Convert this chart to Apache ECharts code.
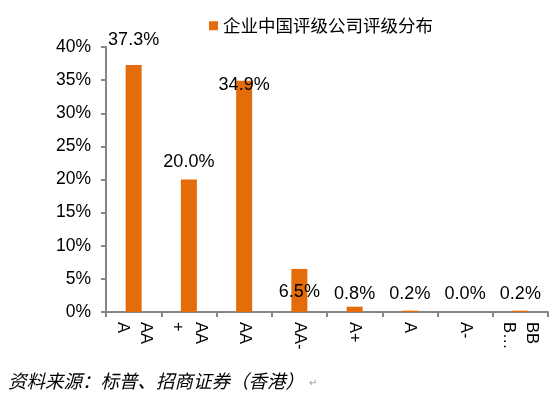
<!DOCTYPE html>
<html>
<head>
<meta charset="utf-8">
<script src="https://cdn.jsdelivr.net/npm/echarts@6/dist/echarts.min.js"></script>
<style>
	html, body { margin: 0; padding: 0; background: #fff; }
	#chart { width: 556px; height: 397px; }
</style>
</head>
<body>
<div id="chart"></div>
<script>
// rating categories and their share of rated Chinese companies (%)
var ratings = ['AAA', 'AA+', 'AA', 'AA-', 'A+', 'A', 'A-', 'BBB…'];
var tickLabels = ['AA\nA', 'AA\n+', 'AA', 'AA-', 'A+', 'A', 'A-', 'BB\nB…'];
var shares = [37.3, 20.0, 34.9, 6.5, 0.8, 0.2, 0.0, 0.2];
var yTicks = [0, 5, 10, 15, 20, 25, 30, 35, 40];

var seriesName = '企业中国评级公司评级分布';
var sourceNote = '资料来源：标普、招商证券（香港）';

// label nudges, the source placed its data labels by hand
var labelNudge = [-12, -4, 17, 36, 0, 0, 0, 0];

var orange = '#E46C0A';
var axisGrey = '#868686';
var font = '"Liberation Sans", Arial, sans-serif';

var myChart = echarts.init(document.getElementById('chart'));

var option = {
	animation: false,
	grid: {
		left: 106,
		right: 8,
		top: 47,
		bottom: 85
	},
	legend: {
		data: [seriesName],
		top: 12,
		left: 204,
		itemWidth: 9,
		itemHeight: 9,
		itemGap: 6,
		icon: 'rect',
		textStyle: {
			fontFamily: '"Noto Sans CJK SC"',
			fontSize: 17.5,
			color: '#000'
		}
	},
	xAxis: {
		type: 'category',
		data: ratings,
		axisLine: { lineStyle: { color: axisGrey, width: 2 } },
		axisTick: { show: true, length: 5, lineStyle: { color: axisGrey, width: 2 } },
		axisLabel: {
			interval: 0,
			rotate: -90,
			margin: 10,
			fontFamily: font,
			fontSize: 16.5,
			color: '#000',
			lineHeight: 23,
			formatter: function(value, index) {
				return tickLabels[index];
			}
		}
	},
	yAxis: {
		type: 'value',
		min: yTicks[0],
		max: yTicks[yTicks.length - 1],
		interval: yTicks[1] - yTicks[0],
		splitLine: { show: false },
		axisLine: { show: true, lineStyle: { color: axisGrey, width: 2 } },
		axisTick: { show: true, length: 5, inside: false, lineStyle: { color: axisGrey, width: 2 } },
		axisLabel: {
			margin: 15,
			fontFamily: font,
			fontSize: 17.5,
			color: '#000',
			formatter: function(v) {
				return v + '%';
			}
		}
	},
	series: [{
		name: seriesName,
		type: 'bar',
		barWidth: 16,
		itemStyle: { color: orange },
		data: shares.map(function(v, i) {
			var item = { value: v };
			// small values share one baseline row above the axis
			if (v < 1) {
				item.label = { position: 'insideBottom', offset: [0, -5] };
			} else {
				item.label = { offset: [0, labelNudge[i]] };
			}
			return item;
		}),
		label: {
			show: true,
			position: 'top',
			distance: 4,
			fontFamily: font,
			fontSize: 18,
			color: '#000',
			formatter: function(p) {
				return p.value.toFixed(1) + '%';
			}
		}
	}],
	graphic: [{
		type: 'text',
		left: 8,
		top: 372,
		style: {
			text: sourceNote,
			fontFamily: '"Noto Sans CJK SC"',
			fontStyle: 'italic',
			fontSize: 18.5,
			fill: '#000'
		}
	}, {
		type: 'text',
		left: 309,
		top: 378,
		style: {
			text: '↵',
			fontFamily: font,
			fontSize: 10,
			fill: '#999'
		}
	}]
};

myChart.setOption(option);
</script>
</body>
</html>
